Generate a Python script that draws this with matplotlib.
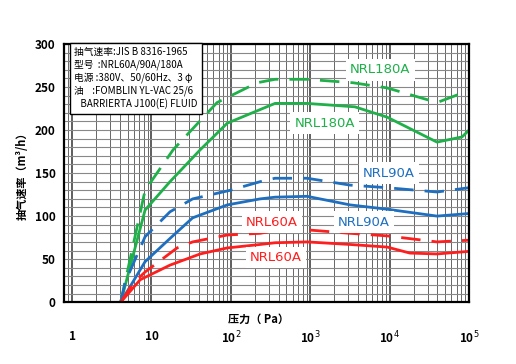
import matplotlib
matplotlib.use('Agg')
import matplotlib.pyplot as plt
import numpy as np

plt.rcParams['font.family'] = ['Noto Sans CJK SC', 'DejaVu Sans']

# pressure (Pa) and pumping speed (m3/h)
p180_dash = [4.1, 8.3, 18.7, 67, 214, 360, 912, 3460, 9300, 39500, 100000]
v180_dash = [0, 130, 177, 232, 255, 259, 259, 255, 249, 232, 246]
p180 = [4.1, 8.3, 17.1, 41, 90, 360, 912, 3650, 9300, 39500, 81600, 100000]
v180 = [0, 107, 140, 177, 208, 231, 231, 227, 215, 186, 192, 200]
p90_dash = [4.1, 4.65, 8.3, 17.1, 33, 98, 233, 360, 912, 3180, 9300, 39500, 100000]
v90_dash = [0, 23, 76, 105, 120, 130, 140, 144, 144, 136, 133, 128, 133]
p90 = [4.1, 8.3, 17.1, 33, 90, 233, 360, 912, 3180, 9300, 39500, 100000]
v90 = [0, 47, 74, 98, 113, 120, 122, 123, 113, 108, 100, 103]
p60_dash = [4.1, 5.87, 8.3, 21, 33, 90, 233, 360, 912, 3180, 9300, 39500, 100000]
v60_dash = [0, 22, 35, 63, 70, 78, 80, 83, 84, 80, 77, 70, 72]
p60 = [4.1, 7.2, 17.1, 41, 90, 233, 360, 912, 3180, 9300, 18000, 39500, 100000]
v60 = [0, 26, 43, 56, 63, 67, 69, 70, 67, 64, 57, 56, 59]

green = '#1fb04a'
blue = '#1f6fc0'
red = '#ff1e1e'

fig = plt.figure(figsize=(5.16, 3.64), dpi=100)
ax = fig.add_axes([0.124, 0.170, 0.785, 0.709])
ax.set_xscale('log')
ax.set_xlim(0.79, 1e5)
ax.set_ylim(0, 300)

ax.set_yticks(np.arange(0, 301, 10), minor=True)
ax.set_yticks(np.arange(0, 301, 50))
ax.grid(which='major', axis='x', color='#333333', lw=1.1)
ax.grid(which='minor', axis='x', color='#666666', lw=0.7)
ax.grid(which='both', axis='y', color='#888888', lw=0.8)
ax.set_axisbelow(True)

dash = (0, (7, 4))
ax.plot(p180_dash, v180_dash, color=green, lw=2, ls=dash)
ax.plot(p180, v180, color=green, lw=2)
ax.plot(p90_dash, v90_dash, color=blue, lw=2, ls=dash)
ax.plot(p90, v90, color=blue, lw=2)
ax.plot(p60_dash, v60_dash, color=red, lw=2, ls=dash)
ax.plot(p60, v60, color=red, lw=2)

box = dict(facecolor='white', edgecolor='none', pad=3)
lab = dict(fontsize=9.5, ha='center', va='center', family='DejaVu Sans', bbox=box)
ax.text(7600, 270, 'NRL180A', color=green, **lab)
ax.text(1530, 208, 'NRL180A', color=green, **lab)
ax.text(9800, 150, 'NRL90A', color=blue, **lab)
ax.text(4760, 93, 'NRL90A', color=blue, **lab)
ax.text(330, 93, 'NRL60A', color=red, **lab)
ax.text(370, 52, 'NRL60A', color=red, **lab)

info = ('抽气速率:JIS B 8316-1965\n'
        '型号  :NRL60A/90A/180A\n'
        '电源 :380V、50/60Hz、3 φ\n'
        '油    :FOMBLIN YL-VAC 25/6\n'
        '   BARRIERTA J100(E) FLUID')
ax.text(0.025, 0.99, info, transform=ax.transAxes, fontsize=7, va='top', ha='left',
        linespacing=1.3,
        bbox=dict(facecolor='white', edgecolor='black', lw=1, pad=3))

for s in ax.spines.values():
    s.set_linewidth(1.6)
ax.tick_params(axis='x', which='both', length=0, pad=20, labelsize=8.5)
ax.tick_params(axis='y', which='both', length=0, pad=6, labelsize=8.5)
ax.set_xticks([1, 10, 100, 1000, 1e4, 1e5])
ax.set_xticklabels(['1', '10', '10$^2$', '10$^3$', '10$^4$', '10$^5$'], fontweight='bold')
for t in ax.get_yticklabels():
    t.set_fontweight('bold')
ax.set_ylabel('抽气速率（m³/h）', fontsize=8, fontweight='bold', labelpad=4)
ax.text(0.48, -0.065, '压力（ Pa）', transform=ax.transAxes, fontsize=8, fontweight='bold',
        ha='center', va='center')

fig.savefig('out.png', dpi=100)
